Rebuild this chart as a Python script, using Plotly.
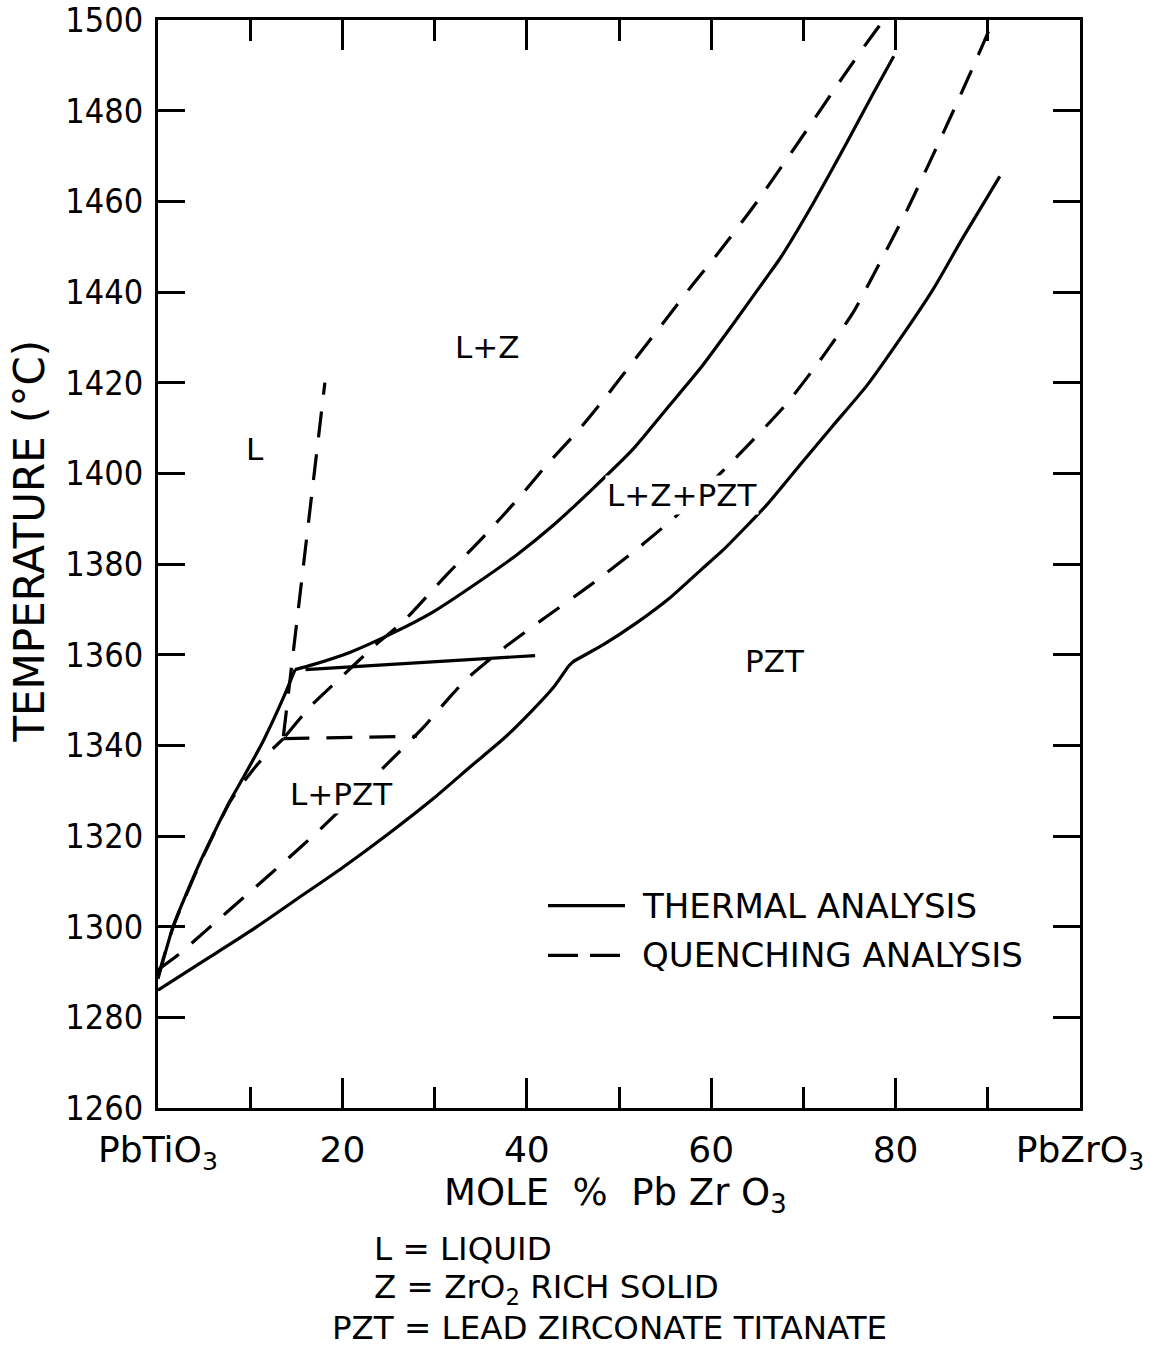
import plotly.graph_objects as go

# ---------------- data (mole % PbZrO3, temperature in deg C) ----------------
# Thermal analysis (solid lines)
liq_thermal_x = [0, 1.66, 2.75, 4.55, 6.37, 7.8, 9.25, 11.4, 13.6, 14.86]
liq_thermal_T = [1288.5, 1300.2, 1305.7, 1314.2, 1321.9, 1327.7, 1332.9, 1340.9, 1350.5, 1356.7]

upper_thermal_x = [14.86, 16.8, 20.8, 25.5, 29.9, 34.6, 38.9, 42.9, 47.2, 51.6, 55.2, 58.8,
                   62.4, 66.0, 67.5, 71.1, 74.7, 77.6, 79.8]
upper_thermal_T = [1356.7, 1357.8, 1360.5, 1364.8, 1369.5, 1375.8, 1382.0, 1388.6, 1396.7, 1405.5,
                   1414.3, 1423.1, 1433.0, 1443.2, 1447.5, 1459.7, 1472.9, 1483.9, 1492.0]

tie_thermal_x = [16.0, 40.9]
tie_thermal_T = [1356.7, 1359.8]

solidus_low_x = [0, 5, 10, 15, 20, 25, 30, 34, 37.5, 40.5, 42.9, 44.5]
solidus_low_T = [1286, 1292.5, 1299, 1306, 1313, 1320.5, 1328.5, 1335.5, 1341.5, 1347.5, 1352.8, 1357.4]

solidus_high_x = [44.5, 45.0, 48.3, 51.9, 55.5, 59.1, 61.3, 66.0, 69.6, 73.2, 76.9, 80.5, 84.1, 87.3, 91.3]
solidus_high_T = [1357.4, 1358.4, 1362.2, 1367.0, 1372.5, 1379.1, 1383.1, 1393.0, 1401.8, 1410.5,
                  1419.4, 1429.7, 1440.7, 1452.0, 1465.5]

# Quenching analysis (dashed lines)
liq_quench_x = [0, 1.66, 4.55, 7.8, 9.5, 11.1, 13.6]
liq_quench_T = [1289, 1300, 1314, 1327.5, 1332.5, 1336.5, 1341.5]

steep_quench_x = [13.6, 18.1]
steep_quench_T = [1342, 1420]

horiz_quench_x = [13.6, 28.1]
horiz_quench_T = [1341.5, 1342]

upper_quench_x = [13.8, 16.5, 19.6, 23.4, 26.6, 31.3, 35.3, 39.1, 42.3, 45.6, 48.7, 51.9, 55.0,
                  57.9, 60.8, 65.0, 70.9, 74.2, 77.0, 78.7]
upper_quench_T = [1342, 1348.5, 1354.5, 1361.8, 1367.3, 1377.6, 1386.0, 1394.5, 1402.2, 1409.5,
                  1417.2, 1425.6, 1433.7, 1441.4, 1448.7, 1460.0, 1477.3, 1487.2, 1495.3, 1500]

lower_quench_x = [0, 2.2, 5.8, 9.6, 13.8, 17.6, 24.8, 28.8, 31.5, 33.3, 37.6, 42.0, 47.0, 51.7,
                  56.1, 61.5, 64.0, 68.2, 71.8, 75.4, 78.3, 81.2, 83.8, 86.5, 89.0, 90.6]
lower_quench_T = [1290.5, 1293.8, 1300.2, 1307.0, 1314.5, 1321.5, 1335.8, 1344.0, 1350.3, 1354.3,
                  1361.6, 1368.2, 1375.5, 1382.9, 1390.4, 1401.0, 1406.2, 1415.4, 1424.9, 1435.5,
                  1446.5, 1457.9, 1469.1, 1481.0, 1492.4, 1500]

# region labels
region_labels = ["L", "L+Z", "L+Z+PZT", "PZT", "L+PZT"]
region_x = [10.5, 35.7, 56.8, 66.9, 19.9]
region_T = [1405.4, 1427.8, 1395.3, 1358.5, 1329.3]

# ticks
x_tick_vals = [0, 20, 40, 60, 80, 100]
x_tick_text = ["PbTiO<sub>3</sub>", "20", "40", "60", "80", "PbZrO<sub>3</sub>"]
x_minor_vals = [10, 30, 50, 70, 90]
y_tick_vals = [1260, 1280, 1300, 1320, 1340, 1360, 1380, 1400, 1420, 1440, 1460, 1480, 1500]

legend_labels = ["THERMAL ANALYSIS", "QUENCHING ANALYSIS"]
key_lines = ["L = LIQUID", "Z = ZrO<sub>2</sub> RICH SOLID", "PZT = LEAD ZIRCONATE TITANATE"]

# ---------------- figure ----------------
FONT = "DejaVu Sans"
NARROW = "Liberation Sans Narrow, DejaVu Sans Condensed, Arial Narrow, Roboto Condensed, sans-serif"
LW = 3.2
DASH = "26px,17px"

fig = go.Figure()


def add_line(x, y, dash="solid", shape="spline"):
    fig.add_trace(go.Scatter(
        x=x, y=y, mode="lines",
        line=dict(color="black", width=LW, dash=dash, shape=shape, smoothing=0.6),
        showlegend=False, hoverinfo="skip"))


add_line(liq_thermal_x, liq_thermal_T)
add_line(upper_thermal_x, upper_thermal_T)
add_line(tie_thermal_x, tie_thermal_T, shape="linear")
add_line(solidus_low_x, solidus_low_T)
add_line(solidus_high_x, solidus_high_T)

add_line(liq_quench_x, liq_quench_T, dash=DASH)
add_line(steep_quench_x, steep_quench_T, dash=DASH, shape="linear")
add_line(horiz_quench_x, horiz_quench_T, dash=DASH, shape="linear")
add_line(upper_quench_x, upper_quench_T, dash=DASH)
add_line(lower_quench_x, lower_quench_T, dash=DASH)

annotations = []
for lab, xx, tt in zip(region_labels, region_x, region_T):
    annotations.append(dict(x=xx, y=tt, xref="x", yref="y", text=lab, showarrow=False,
                            bgcolor="white", borderpad=1,
                            font=dict(family=FONT, size=31, color="black")))

# legend (drawn as a key inside the plot)
leg_y = [0.186, 0.1402]
shapes = [
    dict(type="line", xref="paper", yref="paper", x0=0.423, x1=0.5065, y0=leg_y[0], y1=leg_y[0],
         line=dict(color="black", width=LW)),
    dict(type="line", xref="paper", yref="paper", x0=0.423, x1=0.512, y0=leg_y[1], y1=leg_y[1],
         line=dict(color="black", width=LW, dash="30px,12px")),
]
for lab, yy in zip(legend_labels, leg_y):
    annotations.append(dict(x=0.5228, y=yy, xref="paper", yref="paper", text=lab, showarrow=False,
                            xanchor="left", yanchor="middle",
                            font=dict(family=FONT, size=34, color="black")))

# axis titles
annotations.append(dict(x=-0.1388, y=0.5206, xref="paper", yref="paper",
                        text="TEMPERATURE (°C)", textangle=-90, showarrow=False,
                        xanchor="center", yanchor="middle",
                        font=dict(family=FONT, size=42, color="black")))
annotations.append(dict(x=0.496, y=-0.0797, xref="paper", yref="paper",
                        text="MOLE  %  Pb Zr O<sub>3</sub>", showarrow=False,
                        xanchor="center", yanchor="middle",
                        font=dict(family=FONT, size=37, color="black")))

# key beneath the chart
key_x = [0.2321, 0.2321, 0.1866]
key_y = [-0.1295, -0.1665, -0.2020]
for lab, xx, yy in zip(key_lines, key_x, key_y):
    annotations.append(dict(x=xx, y=yy, xref="paper", yref="paper", text=lab, showarrow=False,
                            xanchor="left", yanchor="middle",
                            font=dict(family=FONT, size=32.5, color="black")))

fig.update_layout(
    width=1151, height=1351,
    margin=dict(l=158, r=71, t=20, b=243, autoexpand=False),
    paper_bgcolor="white", plot_bgcolor="white",
    font=dict(family=FONT, color="black"),
    annotations=annotations, shapes=shapes,
    showlegend=False,
)

fig.update_xaxes(
    range=[0, 100], tickmode="array", tickvals=x_tick_vals, ticktext=x_tick_text,
    ticks="inside", ticklen=30, tickwidth=3, tickcolor="black",
    showline=True, linewidth=3, linecolor="black", mirror="allticks",
    showgrid=False, zeroline=False, ticklabelstandoff=8, ticklabeloverflow="allow",
    automargin=False,
    tickfont=dict(family=FONT, size=36, color="black"),
    minor=dict(tickmode="array", tickvals=x_minor_vals, ticks="inside", ticklen=21,
               tickwidth=3, tickcolor="black", showgrid=False),
)
fig.update_yaxes(
    range=[1260, 1500], tickmode="array", tickvals=y_tick_vals,
    ticks="inside", ticklen=27, tickwidth=3, tickcolor="black",
    showline=True, linewidth=3, linecolor="black", mirror="allticks",
    showgrid=False, zeroline=False, ticklabelstandoff=5, ticklabeloverflow="allow",
    automargin=False,
    tickfont=dict(family=NARROW, size=34, color="black"),
)

fig.write_html("out.html", config={"displayModeBar": False},
               post_script="document.body.style.margin='0';document.body.style.overflow='hidden';")
